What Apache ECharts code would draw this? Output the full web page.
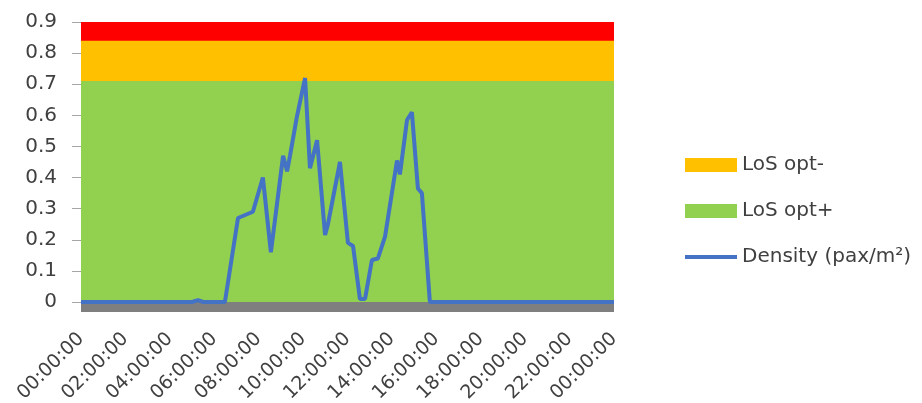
<!DOCTYPE html>
<html><head><meta charset="utf-8">
<script src="https://cdn.jsdelivr.net/npm/echarts@6/dist/echarts.min.js"></script>
<style>html,body{margin:0;padding:0;background:#fff}#c{width:922px;height:403px}</style>
</head><body><div id="c"></div>
<script>
// Density curve (hours of day, pax/m²)
const hours   = [0, 5.0, 5.27, 5.5, 6.48, 7.07, 7.74, 8.19, 8.55, 9.1, 9.28, 9.41, 9.72, 10.09, 10.31, 10.63, 10.99, 11.12, 11.66, 12.02, 12.25, 12.56, 12.79, 13.1, 13.37, 13.69, 14.23, 14.36, 14.68, 14.9, 15.17, 15.35, 15.71, 24];
const density = [0, 0, 0.006, 0, 0, 0.27, 0.29, 0.40, 0.16, 0.47, 0.42, 0.47, 0.595, 0.72, 0.43, 0.52, 0.215, 0.25, 0.45, 0.19, 0.18, 0.01, 0.01, 0.135, 0.14, 0.21, 0.455, 0.41, 0.585, 0.61, 0.365, 0.35, 0, 0];
// LoS band upper limits (pax/m²)
const bandX = [0, 24];
const losOptPlusTop = [0.71, 0.71];
const losOptMinusTop = [0.84, 0.84];
const losRedTop = [0.9, 0.9];
const yTicks = [0, 0.9, 0.1];
const xTicks = [0, 24, 2];

const font = 'DejaVu Sans';
const zip = (xs, ys) => xs.map((x, i) => [x, ys[i]]);
const chart = echarts.init(document.getElementById('c'));
chart.setOption({
  animation: false,
  textStyle: {fontFamily: font},
  grid: [
    {left: 81, right: 308, top: 22, bottom: 101, containLabel: false, outerBoundsMode: 'none'},
    {left: 81, right: 308, top: 302, height: 10, containLabel: false, outerBoundsMode: 'none'}
  ],
  xAxis: [{
    type: 'value', min: xTicks[0], max: xTicks[1], interval: xTicks[2], gridIndex: 0,
    axisLine: {show: false},
    axisTick: {show: false},
    splitLine: {show: false},
    axisLabel: {show: false}
  }, {
    type: 'value', min: xTicks[0], max: xTicks[1], interval: xTicks[2], gridIndex: 1,
    axisLine: {show: false},
    axisTick: {show: false},
    splitLine: {show: false},
    axisLabel: {
      rotate: 45, fontSize: 19, color: '#404040', margin: 24, fontFamily: font,
      formatter: v => String(v % 24).padStart(2, '0') + ':00:00'
    }
  }],
  yAxis: [{
    type: 'value', min: yTicks[0], max: yTicks[1], interval: yTicks[2], gridIndex: 0,
    position: 'left', z: 10,
    axisLine: {show: false},
    axisTick: {show: true, inside: false, length: 9, lineStyle: {color: '#a6a6a6', width: 1}},
    splitLine: {show: false},
    axisLabel: {show: true, fontSize: 20, color: '#404040', margin: 24, fontFamily: font,
      formatter: v => (Math.round(v * 10) / 10).toString()}
  }, {
    type: 'value', min: 0, max: 1, gridIndex: 1, show: false
  }],
  legend: {
    orient: 'vertical', left: 678, top: 150, itemWidth: 52, itemHeight: 14, itemGap: 26,
    textStyle: {fontSize: 20, color: '#404040', fontFamily: font},
    data: [
      {name: 'LoS opt-', icon: 'rect'},
      {name: 'LoS opt+', icon: 'rect'},
      {name: 'Density (pax/m²)', itemStyle: {opacity: 0}, lineStyle: {width: 4}}
    ]
  },
  series: [
    {name: 'LoS red', type: 'line', symbol: 'none', data: zip(bandX, losRedTop),
     lineStyle: {width: 0}, itemStyle: {color: '#FF0000'}, areaStyle: {color: '#FF0000', opacity: 1}},
    {name: 'LoS opt-', type: 'line', symbol: 'none', data: zip(bandX, losOptMinusTop),
     lineStyle: {width: 0}, itemStyle: {color: '#FFC000'}, areaStyle: {color: '#FFC000', opacity: 1}},
    {name: 'LoS opt+', type: 'line', symbol: 'none', data: zip(bandX, losOptPlusTop),
     lineStyle: {width: 0}, itemStyle: {color: '#92D050'}, areaStyle: {color: '#92D050', opacity: 1}},
    {name: 'Floor', type: 'line', symbol: 'none', xAxisIndex: 1, yAxisIndex: 1, data: zip(bandX, [1, 1]),
     lineStyle: {width: 0}, itemStyle: {color: '#7f7f7f'}, areaStyle: {color: '#7f7f7f', opacity: 1}, silent: true},
    {name: 'Density (pax/m²)', type: 'line', symbol: 'none', data: zip(hours, density),
     lineStyle: {width: 4, color: '#4472C4'}, itemStyle: {color: '#4472C4'}, z: 5}
  ]
});
</script></body></html>
